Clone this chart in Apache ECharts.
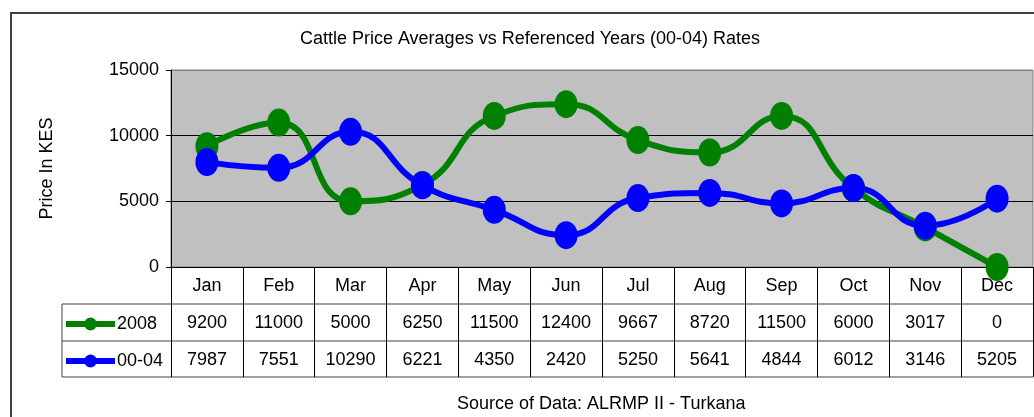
<!DOCTYPE html>
<html>
<head>
<meta charset="utf-8">
<title>Cattle Price Averages</title>
<script src="https://cdn.jsdelivr.net/npm/echarts@6/dist/echarts.min.js"></script>
<style>
  html, body { margin: 0; padding: 0; background: #fff; }
  #chart { width: 1034px; height: 417px; }
</style>
</head>
<body>
<div id="chart"></div>
<script>
const months = ['Jan', 'Feb', 'Mar', 'Apr', 'May', 'Jun', 'Jul', 'Aug', 'Sep', 'Oct', 'Nov', 'Dec']
const prices2008 = [9200, 11000, 5000, 6250, 11500, 12400, 9667, 8720, 11500, 6000, 3017, 0]
const prices0004 = [7987, 7551, 10290, 6221, 4350, 2420, 5250, 5641, 4844, 6012, 3146, 5205]
const yTicks = [0, 5000, 10000, 15000]

const FONT = "'Liberation Sans', Arial, sans-serif"
const gridLeft = 171
const gridTop = 70
const gridRight = 1033
const gridBottom = 267
const rowH = 37
const tableLeft = 62

const chart = echarts.init(document.getElementById('chart'))

// table lines under the plot (data table look)
const tableLines = []
for (let i = 1; i <= 3; i++) {
  const y = gridBottom + i * rowH - (i === 3 ? 1 : 0)
  tableLines.push({
    type: 'line',
    silent: true,
    shape: { x1: tableLeft, y1: y, x2: gridRight, y2: y },
    style: { stroke: '#404040', lineWidth: 1 }
  })
}
tableLines.push({
  type: 'line',
  silent: true,
  shape: { x1: tableLeft, y1: gridBottom + rowH, x2: tableLeft, y2: gridBottom + 3 * rowH - 1 },
  style: { stroke: '#404040', lineWidth: 1 }
})

const rowAxis = (values, offset) => ({
  type: 'category',
  data: values.map(String),
  position: 'bottom',
  offset: offset,
  axisLine: { show: false },
  axisTick: { show: false },
  axisLabel: { color: '#000', fontSize: 18, fontFamily: FONT, margin: 10, interval: 0 }
})

const option = {
  animation: false,
  title: {
    text: 'Cattle Price Averages vs Referenced Years (00-04) Rates',
    left: 525,
    textAlign: 'center',
    top: 25,
    textStyle: { color: '#000', fontSize: 18, fontWeight: 'normal', fontFamily: FONT }
  },
  legend: {
    orient: 'vertical',
    left: 63,
    top: 315,
    padding: 0,
    itemWidth: 49,
    itemHeight: 16,
    itemGap: 19,
    lineStyle: { width: 6 },
    textStyle: { color: '#000', fontSize: 18, fontFamily: FONT, padding: [4, 0, 0, -3] },
    data: ['2008', '00-04']
  },
  grid: {
    left: gridLeft,
    top: gridTop,
    width: gridRight - gridLeft,
    height: gridBottom - gridTop,
    show: true,
    backgroundColor: '#c0c0c0',
    borderColor: '#808080',
    borderWidth: 1
  },
  xAxis: [
    {
      type: 'category',
      data: months,
      boundaryGap: true,
      axisLine: { lineStyle: { color: '#000', width: 1 } },
      axisTick: { show: true, length: 110, interval: 0, lineStyle: { color: '#000' } },
      axisLabel: { color: '#000', fontSize: 18, fontFamily: FONT, margin: 10, interval: 0 }
    },
    rowAxis(prices2008, 37),
    rowAxis(prices0004, 74)
  ],
  yAxis: {
    type: 'value',
    min: yTicks[0],
    max: yTicks[yTicks.length - 1],
    interval: yTicks[1] - yTicks[0],
    name: 'Price In KES',
    nameLocation: 'middle',
    nameRotate: 90,
    nameGap: 115,
    nameTextStyle: { color: '#000', fontSize: 18, fontFamily: FONT },
    axisLine: { show: true, lineStyle: { color: '#000' } },
    axisTick: { show: true, length: 5, lineStyle: { color: '#000' } },
    axisLabel: { color: '#000', fontSize: 18, fontFamily: FONT, margin: 12, formatter: v => String(v) },
    splitLine: { show: true, lineStyle: { color: ['#000', '#000', '#000', '#808080'], width: 1 } }
  },
  graphic: [
    {
      type: 'rect',
      silent: true,
      shape: { x: 11, y: 13, width: 1100, height: 500 },
      style: { fill: 'none', stroke: '#404040', lineWidth: 2 }
    },
    {
      type: 'text',
      silent: true,
      left: 457,
      top: 395,
      style: { text: 'Source of Data: ALRMP II - Turkana', fill: '#000', fontSize: 18, fontFamily: FONT }
    },
    ...tableLines
  ],
  series: [
    {
      name: '2008',
      type: 'line',
      smooth: 0.5,
      clip: false,
      symbol: 'circle',
      symbolSize: [23, 28],
      color: '#008000',
      lineStyle: { color: '#008000', width: 6 },
      itemStyle: { color: '#008000' },
      data: prices2008
    },
    {
      name: '00-04',
      type: 'line',
      smooth: 0.5,
      clip: false,
      symbol: 'circle',
      symbolSize: [23, 28],
      color: '#0000ff',
      lineStyle: { color: '#0000ff', width: 6 },
      itemStyle: { color: '#0000ff' },
      data: prices0004
    }
  ]
}

chart.setOption(option)
window.addEventListener('resize', () => chart.resize())
</script>
</body>
</html>
